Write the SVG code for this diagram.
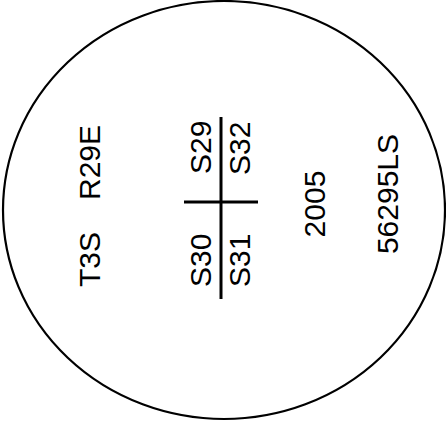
<svg xmlns="http://www.w3.org/2000/svg" width="446" height="423" viewBox="0 0 446 423">
<style>
text{font-family:"Liberation Sans",Arial,sans-serif;font-size:30px;fill:#000}
.ln{stroke:#000;stroke-width:3;fill:none}
</style>
<rect width="446" height="423" fill="#fff"/>
<g id="cap"><ellipse cx="224" cy="210" rx="221" ry="209" fill="none" stroke="#000" stroke-width="2.2"/></g>
<g id="connectors">
<line class="ln" x1="221" y1="117" x2="221" y2="299"/>
<line class="ln" x1="184" y1="202" x2="258" y2="202"/>
</g>
<g id="t3s"><text transform="translate(100,287) rotate(-90)">T3S</text></g>
<g id="r29e"><text transform="translate(100,200) rotate(-90)">R29E</text></g>
<g id="s29"><text transform="translate(211,174) rotate(-90)">S29</text></g>
<g id="s32"><text transform="translate(250,175) rotate(-90)">S32</text></g>
<g id="s30"><text transform="translate(211,287) rotate(-90)">S30</text></g>
<g id="s31"><text transform="translate(250,287) rotate(-90)">S31</text></g>
<g id="y2005"><text transform="translate(325,204) rotate(-90)" text-anchor="middle">2005</text></g>
<g id="ls"><text transform="translate(398,194) rotate(-90)" text-anchor="middle">56295LS</text></g>
</svg>
